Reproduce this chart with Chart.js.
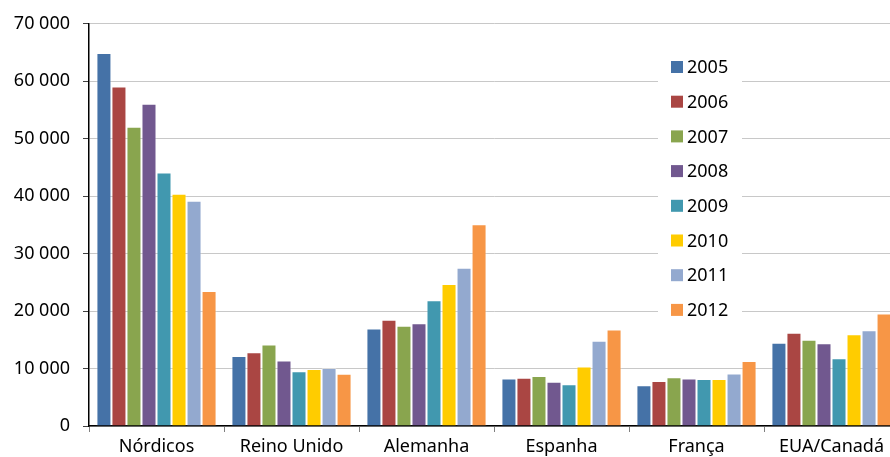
<!DOCTYPE html>
<html lang="pt">
<head>
<meta charset="utf-8">
<title>Gráfico</title>
<script src="https://cdn.jsdelivr.net/npm/chart.js@4/dist/chart.umd.min.js"></script>
<style>
  html, body { margin: 0; padding: 0; background: #fff; }
  #caixa { width: 890px; height: 457px; overflow: hidden; position: relative; }
  #grafico { display: block; }
</style>
</head>
<body>
<div id="caixa"><canvas id="grafico" width="900" height="457"></canvas></div>
<script>
const regioes = ["Nórdicos", "Reino Unido", "Alemanha", "Espanha", "França", "EUA/Canadá"];
const anos = ["2005", "2006", "2007", "2008", "2009", "2010", "2011", "2012"];
const cores = ["#4572A7", "#AA4643", "#89A54E", "#71588F", "#4198AF", "#FFCC00", "#93A9CF", "#F79646"];

const v2005 = [64900, 12200, 16950, 8250, 7100, 14500];
const v2006 = [59100, 12850, 18500, 8400, 7850, 16250];
const v2007 = [52100, 14200, 17450, 8700, 8500, 15000];
const v2008 = [56100, 11400, 17900, 7700, 8250, 14400];
const v2009 = [44100, 9550, 21900, 7250, 8200, 11800];
const v2010 = [40400, 9900, 24700, 10350, 8200, 15950];
const v2011 = [39200, 10100, 27550, 14850, 9150, 16650];
const v2012 = [23500, 9100, 35100, 16800, 11300, 19600];

const series = [v2005, v2006, v2007, v2008, v2009, v2010, v2011, v2012];
const yTicks = [0, 10000, 20000, 30000, 40000, 50000, 60000, 70000];

const fonte = { family: "'Noto Sans', 'Open Sans', sans-serif", size: 18 };

function milhares(n) {
    return String(n).replace(/\B(?=(\d{3})+(?!\d))/g, " ");
}

// legenda dentro da área do gráfico, como no original
const legendaInterna = {
    id: "legendaInterna",
    afterDraw(chart) {
        const ctx = chart.ctx;
        ctx.save();
        ctx.fillStyle = "#fff";
        ctx.fillRect(658, 46, 84, 284);
        ctx.font = `${fonte.size}px ${fonte.family}`;
        ctx.textBaseline = "middle";
        chart.data.datasets.forEach((ds, i) => {
            const y = 67 + i * 34.7;
            ctx.fillStyle = ds.backgroundColor;
            ctx.fillRect(671, y - 6, 12, 12);
            ctx.fillStyle = "#000";
            ctx.fillText(ds.label, 687, y + 1);
        });
        ctx.restore();
    },
};

new Chart(document.getElementById("grafico"), {
    type: "bar",
    data: {
        labels: regioes,
        datasets: series.map((dados, i) => ({
            label: anos[i],
            data: dados,
            backgroundColor: cores[i],
            borderColor: "rgba(255,255,255,0.35)",
            borderWidth: { top: 1, left: 1, right: 1, bottom: 0 },
            borderSkipped: false,
            categoryPercentage: 0.89,
            barPercentage: 1.0,
        })),
    },
    options: {
        responsive: false,
        animation: false,
        layout: { padding: { top: 21, right: 1, left: 0, bottom: 0 } },
        plugins: { legend: { display: false }, tooltip: { enabled: false } },
        scales: {
            x: {
                grid: { display: true, drawOnChartArea: false, drawTicks: true, tickLength: 6, offset: true, color: "#808080" },
                border: { color: "#000", width: 1.5 },
                ticks: { color: "#000", font: fonte, padding: 4, maxRotation: 0, autoSkip: false },
                afterFit(s) { s.height = 31; },
            },
            y: {
                min: 0,
                max: 70000,
                afterBuildTicks(s) { s.ticks = yTicks.map((v) => ({ value: v })); },
                grid: { color: "#c8c8c8", lineWidth: 1, tickLength: 6, tickColor: "#404040" },
                border: { color: "#000", width: 1.5 },
                ticks: { color: "#000", font: fonte, padding: 13, callback: (v) => milhares(v) },
                afterFit(s) { s.width = 89; },
            },
        },
    },
    plugins: [legendaInterna],
});
</script>
</body>
</html>
